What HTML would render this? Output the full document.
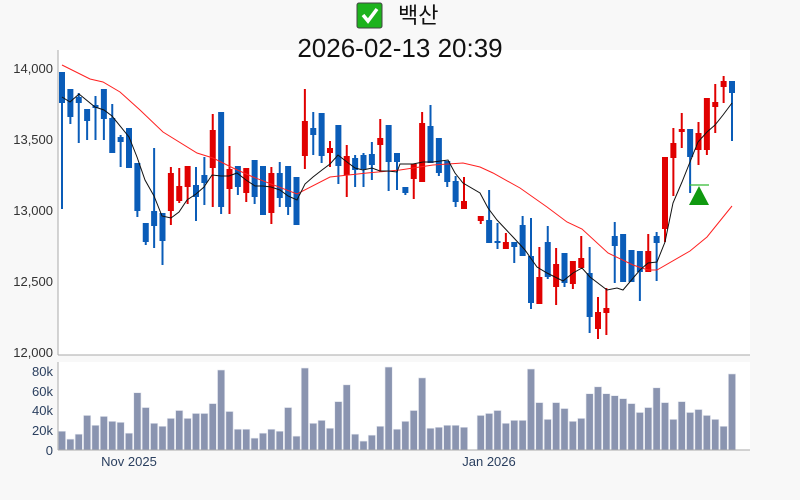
<!DOCTYPE html>
<html><head><meta charset="utf-8"><style>
html,body{margin:0;padding:0;background:#f8f8f8;}
svg{display:block;font-family:"Liberation Sans","Noto Sans CJK KR",sans-serif;}
</style></head><body>
<svg id="s" width="800" height="500" xmlns="http://www.w3.org/2000/svg">
<rect x="0" y="0" width="800" height="500" fill="#f8f8f8"/>
<rect x="58" y="50" width="692" height="305" fill="#fff"/>
<rect x="58" y="362" width="692" height="88" fill="#fff"/>
<rect x="357" y="3" width="25" height="25" rx="2" fill="#1db31d" stroke="#444" stroke-width="1"/>
<path d="M363 15 L368 21 L377 9" stroke="#fff" stroke-width="3.5" fill="none"/>
<text x="398" y="23" font-size="22" fill="#111">백산</text>
<text x="400" y="57" font-size="26" text-anchor="middle" fill="#111">2026-02-13 20:39</text>
<g font-size="13" fill="#333" text-anchor="end">
<text x="53" y="73">14,000</text><text x="53" y="144">13,500</text><text x="53" y="215">13,000</text><text x="53" y="286">12,500</text><text x="53" y="357">12,000</text>
</g>
<g font-size="13" fill="#2a3f5f" text-anchor="end">
<text x="53" y="376">80k</text><text x="53" y="396">60k</text><text x="53" y="415">40k</text><text x="53" y="435">20k</text><text x="53" y="455">0</text>
</g>
<g font-size="13" fill="#2a3f5f" text-anchor="middle">
<text x="129" y="466">Nov 2025</text><text x="489" y="466">Jan 2026</text>
</g>
<g id="g"></g>
<line x1="58" y1="50" x2="58" y2="355" stroke="#aaa"/>
<line x1="58" y1="355" x2="750" y2="355" stroke="#aaa"/>
<line x1="58" y1="362" x2="58" y2="450" stroke="#aaa"/>
<line x1="58" y1="450" x2="750" y2="450" stroke="#aaa"/>
</svg>
<script>
var C=[[72,103,72,209,'b'],[89,117,89,124,'b'],[97,103,93,143,'b'],[109,121,109,140,'b'],[105,108,96,140,'b'],[89,119,89,140,'b'],[118,153,104,153,'b'],[137,142,135,167,'b'],[128,168,128,168,'b'],[163,211,163,217,'b'],[223,242,223,245,'b'],[211,226,148,248,'b'],[213,241,213,265,'b'],[173,211,167,225,'r'],[186,201,168,203,'r'],[166,187,166,204,'r'],[185,197,167,221,'b'],[175,183,157,205,'b'],[130,168,114,207,'r'],[112,207,112,214,'b'],[169,189,146,214,'r'],[166,187,166,195,'b'],[168,193,168,202,'r'],[160,197,160,204,'b'],[166,215,166,215,'b'],[173,213,167,224,'r'],[173,198,162,207,'b'],[166,207,166,215,'b'],[177,225,177,225,'b'],[121,156,89,169,'r'],[128,135,112,155,'b'],[113,156,113,163,'b'],[148,153,141,167,'r'],[125,166,125,184,'b'],[156,175,145,197,'r'],[158,170,155,187,'b'],[155,169,153,187,'b'],[154,165,142,180,'b'],[138,145,119,172,'r'],[125,162,125,191,'b'],[153,162,153,190,'b'],[187,193,187,195,'b'],[164,179,164,199,'r'],[123,182,112,182,'r'],[126,163,105,163,'b'],[138,173,138,176,'b'],[161,182,161,187,'b'],[181,202,176,207,'b'],[201,209,177,209,'r'],null,[216,221,216,224,'r'],[220,243,190,243,'b'],[241,243,223,249,'b'],[242,249,233,249,'r'],[242,247,242,263,'b'],[225,256,216,256,'b'],[256,303,218,309,'b'],[277,304,247,304,'r'],[242,277,226,279,'b'],[264,287,248,305,'r'],[253,283,253,287,'b'],[261,284,261,289,'r'],[258,268,236,268,'r'],[273,317,247,333,'b'],[312,329,297,339,'r'],[308,313,288,335,'r'],[236,246,222,283,'b'],[234,282,234,282,'b'],[250,282,250,282,'b'],[251,272,251,301,'b'],[251,272,234,272,'r'],[236,243,232,281,'b'],[157,229,157,242,'r'],[143,158,128,196,'r'],[129,132,113,148,'r'],[129,157,129,193,'b'],[133,150,122,165,'r'],[98,150,98,155,'r'],[102,107,84,133,'r'],[81,87,76,103,'r'],[81,93,81,141,'b']];
var V=[19,11,16,35,25,34,29,28,17,58,43,27,24,32,40,32,37,37,47,81,39,21,21,12,17,21,19,43,14,83,27,30,22,49,66,16,9,15,24,84,21,29,40,73,22,23,25,25,23,null,35,37,40,27,30,30,82,48,31,48,42,29,32,57,64,57,55,52,47,38,43,63,48,31,49,38,41,35,31,24,77];
var h='';
function X(i){return 62+i*8.375;}
for(var i=0;i<81;i++){var x=X(i);
 if(V[i]!=null){var vh=V[i]*0.9875;h+='<rect x="'+(x-3.6)+'" y="'+(450-vh)+'" width="7.2" height="'+vh+'" fill="#8a94b0" stroke="#e4e7ef" stroke-width="0.6"/>';}
 var c=C[i];if(!c)continue;var col=c[4]=='b'?'#0a5cb8':'#e00000';
 h+='<line x1="'+x+'" y1="'+c[2]+'" x2="'+x+'" y2="'+c[3]+'" stroke="'+col+'" stroke-width="2"/>';
 h+='<rect x="'+(x-3)+'" y="'+c[0]+'" width="6" height="'+Math.max(2,c[1]-c[0])+'" fill="'+col+'"/>';}
var R=[[62,65],[90,79],[103,82],[120,92],[140,110],[163,132],[197,153],[213,158],[233,168],[253,177],[297,194],[330,177],[367,173],[400,170],[433,165],[463,163],[480,167],[493,173],[520,188],[547,207],[567,222],[582,229],[608,253],[633,265],[648,270],[657,270],[690,251],[707,237],[732,206]];
var B=[[62,97],[70,102],[79,94],[95,107],[104,110],[112,116],[129,137],[137,157],[145,180],[154,196],[162,216],[171,218],[179,212],[187,200],[196,194],[204,187],[212,175],[221,176],[229,176],[237,173],[246,180],[255,186],[263,186],[271,187],[280,190],[288,196],[297,200],[305,184],[313,177],[322,170],[330,164],[338,155],[347,162],[355,168],[363,170],[372,168],[380,171],[388,171],[397,172],[400,164],[413,164],[423,162],[433,162],[448,160],[455,173],[463,183],[480,193],[488,208],[497,220],[513,237],[525,250],[537,267],[547,273],[563,281],[573,273],[582,268],[590,277],[607,290],[617,288],[623,290],[640,270],[648,263],[657,262],[665,242],[673,203],[682,182],[690,162],[698,142],[707,132],[715,125],[723,115],[732,103]];
function P(a){return a.map(function(p){return p[0]+','+p[1]}).join(' ');}
h+='<polyline points="'+P(R)+'" fill="none" stroke="#ff2020" stroke-width="1"/>';
h+='<polyline points="'+P(B)+'" fill="none" stroke="#111" stroke-width="1"/>';
h+='<line x1="689" y1="185" x2="709" y2="185" stroke="#33bb33" stroke-width="1.3"/>';
h+='<polygon points="699,186 689,205 709,205" fill="#109910"/>';
document.getElementById('g').innerHTML=h;
</script>
</body></html>
